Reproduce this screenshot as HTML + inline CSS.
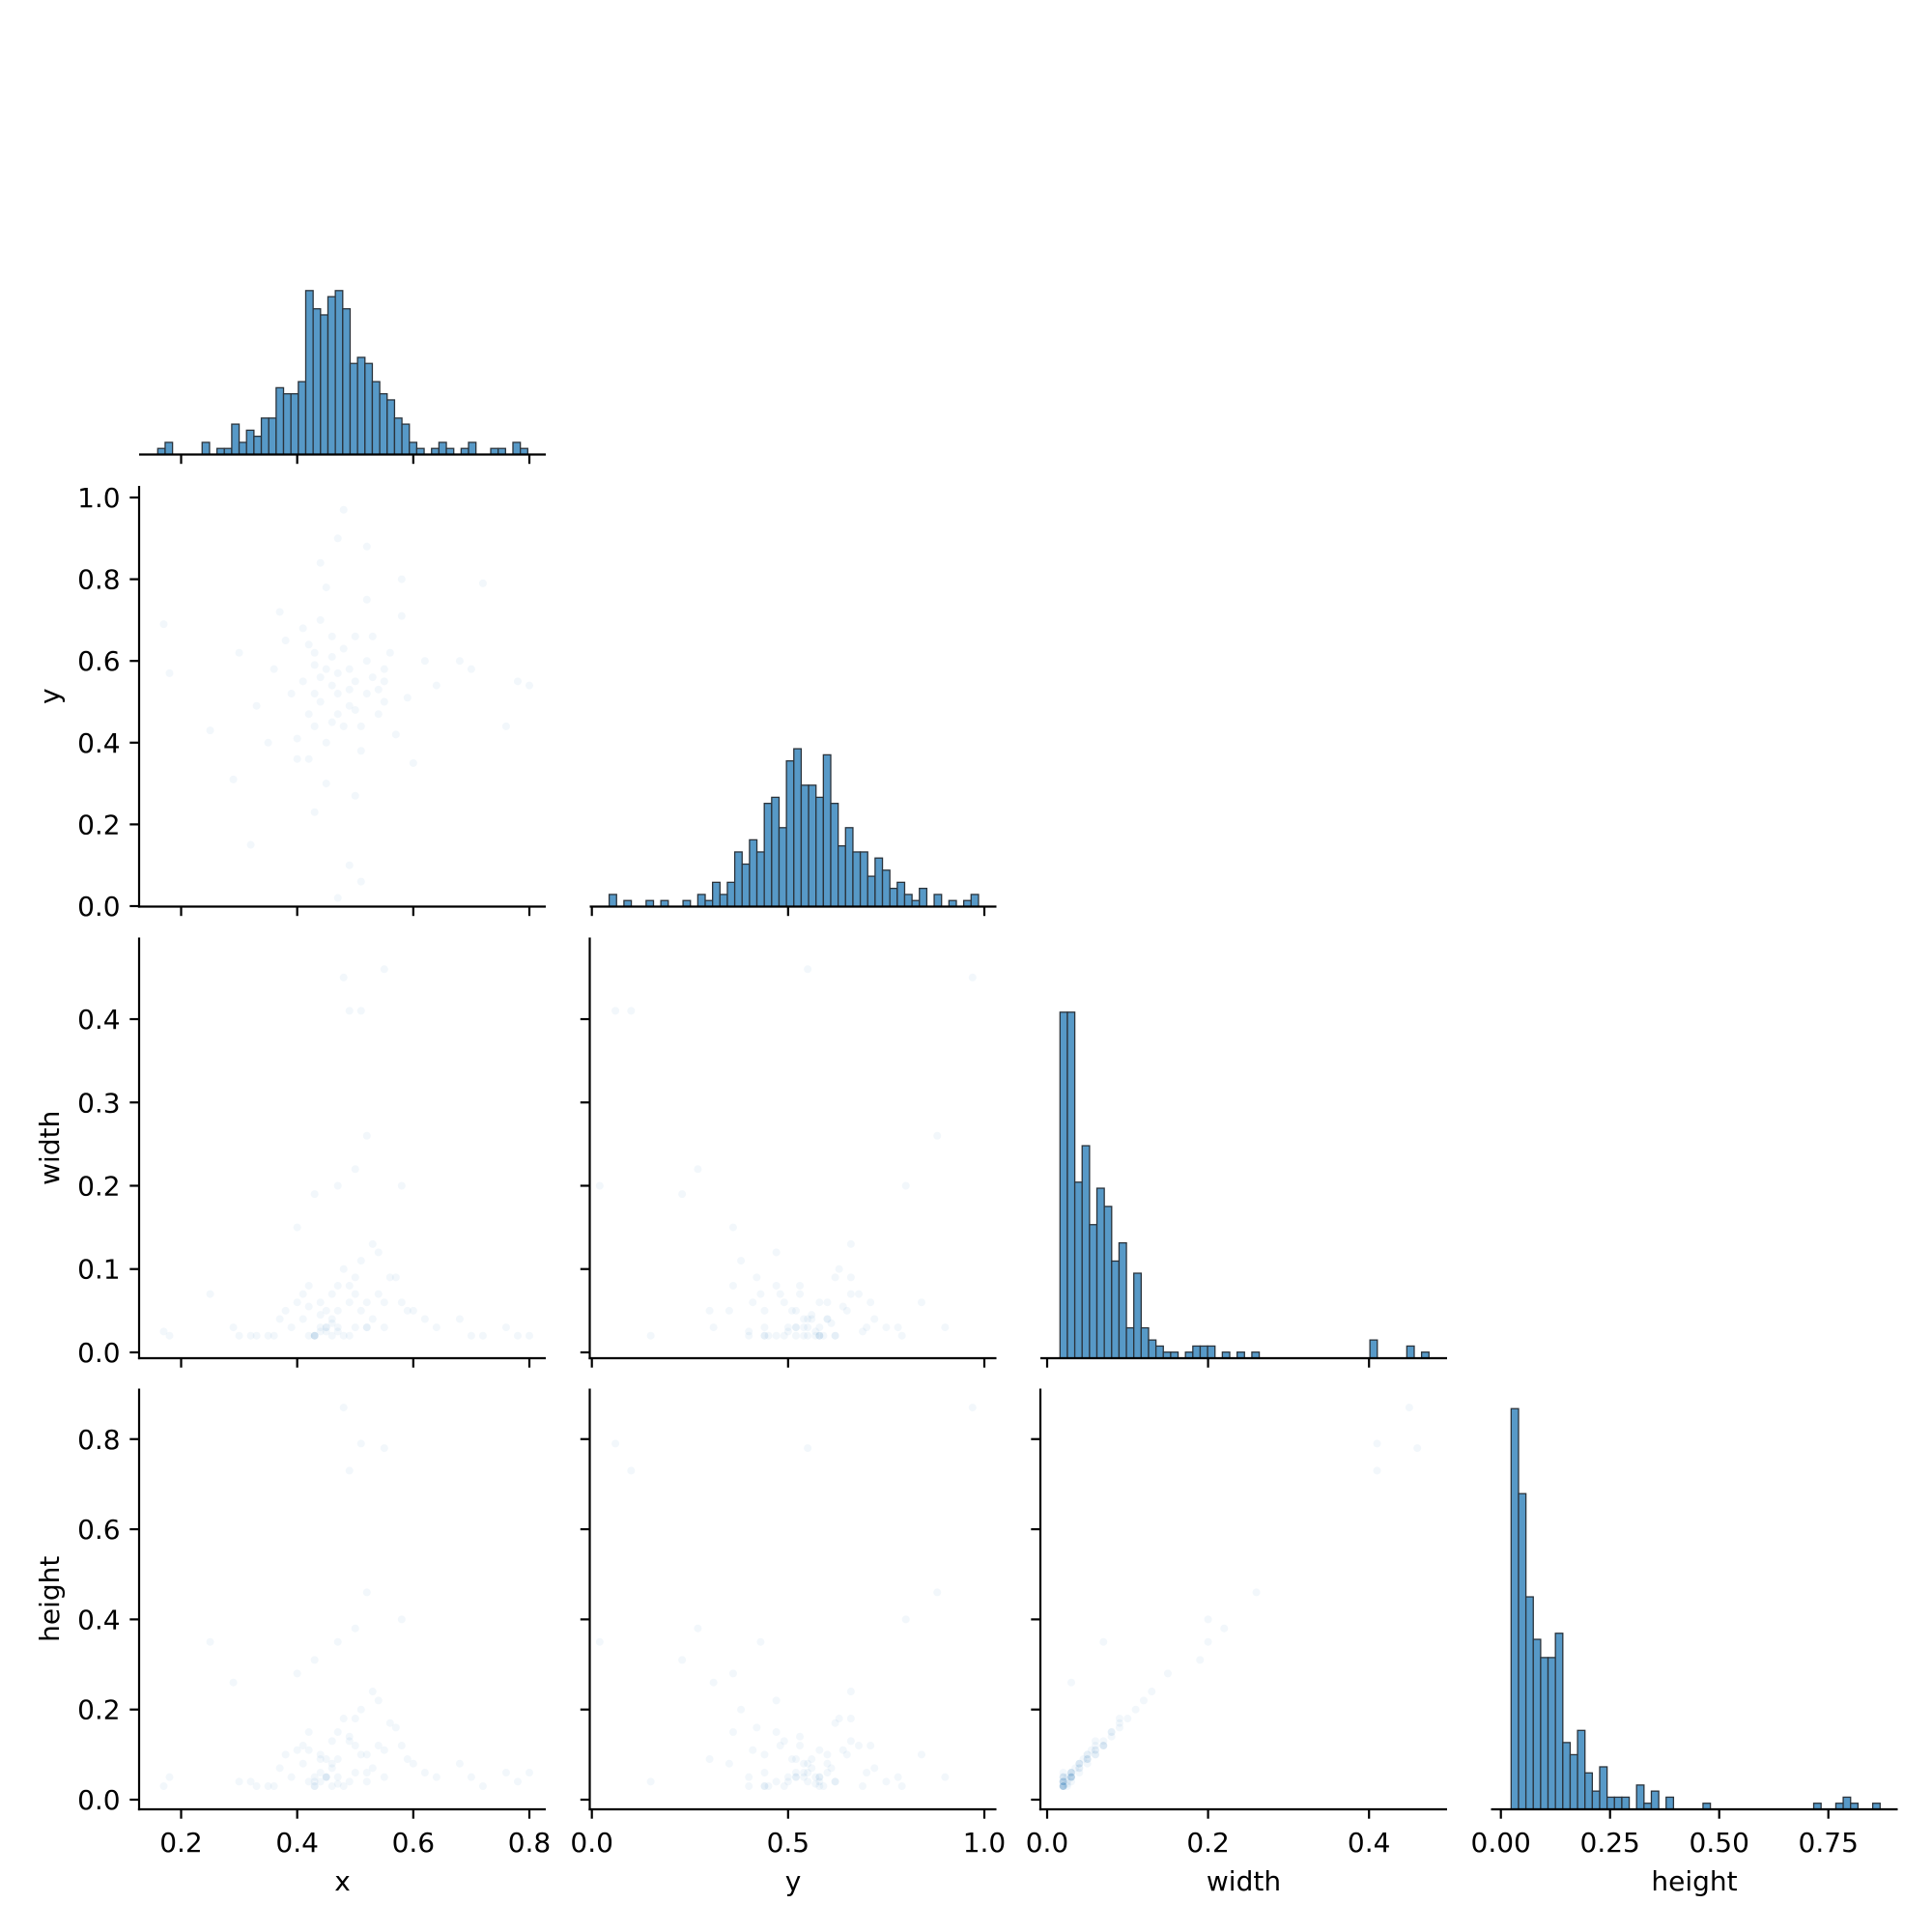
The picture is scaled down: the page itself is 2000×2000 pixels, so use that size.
<!DOCTYPE html>
<html>
<head>
<meta charset="utf-8">
<style>
  html, body { margin: 0; padding: 0; background: #fff; }
  svg { display: block; }
  text { font-family: "DejaVu Sans", "Liberation Sans", sans-serif; fill: #000; }
</style>
</head>
<body>
<svg id="chart" width="2000" height="2000" viewBox="0 0 2000 2000" xmlns="http://www.w3.org/2000/svg">
  <rect x="0" y="0" width="2000" height="2000" fill="#ffffff"></rect>
</svg>
<script>
// ---- data ----
const varNames = ["x", "y", "width", "height"];
const xCounts = [1,2,0,0,0,0,2,0,1,1,5,2,4,3,6,6,11,10,10,12,27,24,23,26,27,24,15,16,15,12,10,9,6,5,2,1,0,1,2,1,0,1,2,0,0,1,1,0,2,1];
const yCounts = [2,0,1,0,0,1,0,1,0,0,1,0,2,1,4,2,4,9,7,11,9,17,18,13,24,26,20,20,18,25,17,10,13,9,9,5,8,6,3,4,2,1,3,0,2,0,1,0,1,2];
const wCounts = [57,57,29,35,22,28,25,16,19,5,14,5,3,2,1,1,0,1,2,2,2,0,1,0,1,0,1,0,0,0,0,0,0,0,0,0,0,0,0,0,0,0,3,0,0,0,0,2,0,1];
const hCounts = [66,52,35,28,25,25,29,11,9,13,6,3,7,2,2,2,0,4,1,3,0,2,0,0,0,0,1,0,0,0,0,0,0,0,0,0,0,0,0,0,0,1,0,0,1,2,1,0,0,1];
const histStart = [0.1597, 0.0441, 0.0160, 0.0235];
const histBinWidth = [0.01275, 0.01882, 0.00917, 0.01690];
const xTicks = [[0.2,0.4,0.6,0.8],[0.0,0.5,1.0],[0.0,0.2,0.4],[0.0,0.25,0.5,0.75]];
const xTickLabels = [["0.2","0.4","0.6","0.8"],["0.0","0.5","1.0"],["0.0","0.2","0.4"],["0.00","0.25","0.50","0.75"]];
const yTicks = [[],[0,0.2,0.4,0.6,0.8,1.0],[0,0.1,0.2,0.3,0.4],[0,0.2,0.4,0.6,0.8]];
const yTickLabels = [[],["0.0","0.2","0.4","0.6","0.8","1.0"],["0.0","0.1","0.2","0.3","0.4"],["0.0","0.2","0.4","0.6","0.8"]];
const xLimits = [[0.1276,0.8283],[-0.0054,1.0308],[-0.0084,0.4970],[-0.0226,0.9088]];
const yLimits = [[0,1],[-0.0012,1.0284],[-0.007,0.498],[-0.0214,0.912]];
// records: [x, y, width, height]
const records = [
[0.45,0.58,0.03,0.05],[0.47,0.52,0.05,0.09],[0.43,0.62,0.02,0.04],[0.50,0.48,0.07,0.12],[0.41,0.55,0.04,0.08],[0.52,0.60,0.06,0.10],[0.46,0.45,0.02,0.03],[0.44,0.70,0.03,0.06],[0.49,0.53,0.08,0.14],[0.55,0.50,0.03,0.05],
[0.38,0.65,0.05,0.10],[0.57,0.42,0.09,0.16],[0.42,0.47,0.02,0.04],[0.48,0.63,0.10,0.18],[0.53,0.56,0.04,0.07],[0.40,0.41,0.06,0.11],[0.36,0.58,0.02,0.03],[0.59,0.51,0.05,0.09],[0.45,0.78,0.03,0.05],[0.51,0.38,0.11,0.20],
[0.47,0.57,0.025,0.035],[0.44,0.50,0.025,0.04],[0.43,0.59,0.02,0.03],[0.46,0.66,0.07,0.13],[0.50,0.55,0.03,0.06],[0.54,0.47,0.12,0.22],[0.39,0.52,0.03,0.05],[0.62,0.60,0.04,0.06],[0.33,0.49,0.02,0.03],[0.58,0.71,0.06,0.12],
[0.48,0.44,0.02,0.03],[0.42,0.36,0.08,0.15],[0.52,0.75,0.03,0.04],[0.45,0.30,0.05,0.09],[0.37,0.72,0.04,0.07],[0.56,0.62,0.09,0.17],[0.49,0.58,0.02,0.04],[0.64,0.54,0.03,0.05],[0.30,0.62,0.02,0.04],[0.70,0.58,0.02,0.05],
[0.44,0.84,0.06,0.10],[0.47,0.90,0.03,0.05],[0.35,0.40,0.02,0.03],[0.60,0.35,0.05,0.08],[0.53,0.66,0.13,0.24],[0.41,0.68,0.07,0.12],[0.46,0.54,0.04,0.08],[0.51,0.44,0.05,0.10],[0.43,0.52,0.02,0.05],[0.55,0.58,0.06,0.11],
[0.18,0.57,0.02,0.05],[0.17,0.69,0.025,0.03],[0.25,0.43,0.07,0.35],[0.29,0.31,0.03,0.26],[0.32,0.15,0.02,0.04],[0.78,0.55,0.02,0.04],[0.76,0.44,0.03,0.06],[0.72,0.79,0.02,0.03],[0.68,0.60,0.04,0.08],[0.80,0.54,0.02,0.06],
[0.48,0.97,0.45,0.87],[0.51,0.06,0.41,0.79],[0.49,0.10,0.41,0.73],[0.55,0.55,0.46,0.78],[0.47,0.02,0.20,0.35],[0.43,0.23,0.19,0.31],[0.58,0.80,0.20,0.40],[0.52,0.88,0.26,0.46],[0.40,0.36,0.15,0.28],[0.50,0.27,0.22,0.38],
[0.46,0.61,0.035,0.07],[0.44,0.56,0.045,0.09],[0.49,0.49,0.06,0.13],[0.52,0.52,0.03,0.06],[0.47,0.47,0.08,0.15],[0.42,0.64,0.055,0.11],[0.54,0.53,0.07,0.12],[0.45,0.40,0.025,0.05],[0.50,0.66,0.09,0.18],[0.43,0.44,0.02,0.03]
];

// ---- layout ----
const NS = "http://www.w3.org/2000/svg";
const svg = document.getElementById("chart");
const colLeft = [144, 610.5, 1077, 1543.5];
const colW = 421;
const rowTop = [35, 503, 970.5, 1437.5];
const rowH = 435.5;
const TICK = 9.7, PAD = 9.7, FS = 28;
const BAR_FILL = "#5799c7", BAR_EDGE = "#2b333b";

function el(tag, attrs, parent) {
  const e = document.createElementNS(NS, tag);
  for (const k in attrs) e.setAttribute(k, attrs[k]);
  (parent || svg).appendChild(e);
  return e;
}
function sx(c, v) { const d = xLimits[c]; return colLeft[c] + (v - d[0]) / (d[1] - d[0]) * colW; }
function sy(r, v) { const d = yLimits[r]; return rowTop[r] + rowH - (v - d[0]) / (d[1] - d[0]) * rowH; }

const allCounts = [xCounts, yCounts, wCounts, hCounts];
let maxCount = 0;
allCounts.forEach(a => a.forEach(v => { if (v > maxCount) maxCount = v; }));
const countMax = maxCount * 1.05;
function sc(r, n) { return rowTop[r] + rowH - n / countMax * rowH; }

for (let r = 0; r < 4; r++) {
  for (let c = 0; c <= r; c++) {
    const g = el("g", {});
    
    
    const bottom = rowTop[r] + rowH;
    if (r === c) {
      const counts = allCounts[r];
      counts.forEach((n, i) => {
        if (n <= 0) return;
        const x0 = sx(c, histStart[c] + i * histBinWidth[c]);
        const x1 = sx(c, histStart[c] + (i + 1) * histBinWidth[c]);
        const yTop = sc(r, n);
        const b = el("rect", { x: x0, y: yTop, width: x1 - x0, height: bottom - yTop, fill: BAR_FILL, stroke: BAR_EDGE, "stroke-width": 1.3 }, g);
        
        
      });
    } else {
      records.forEach((rec, i) => {
        const p = el("circle", { cx: sx(c, rec[c]), cy: sy(r, rec[r]), r: 4, fill: "rgba(31,119,180,0.06)", stroke: "rgba(255,255,255,0.1)", "stroke-width": 0.6 }, g);
        
        
      });
      const ls = el("line", { x1: colLeft[c], y1: rowTop[r], x2: colLeft[c], y2: bottom + 1.1, stroke: "#000", "stroke-width": 2.2 }, g);
      
      
      yTicks[r].forEach((t, i) => {
        const y = sy(r, t);
        const tk = el("line", { x1: colLeft[c] - TICK, y1: y, x2: colLeft[c], y2: y, stroke: "#000", "stroke-width": 2.2 }, g);
        
        
        if (c === 0) {
          const tl = el("text", { x: colLeft[c] - TICK - PAD, y: y + 10, "font-size": FS, "text-anchor": "end" }, g);
          tl.textContent = yTickLabels[r][i];
          
          
        }
      });
    }
    const bs = el("line", { x1: colLeft[c] - (r === c ? 0 : 1.1), y1: bottom, x2: colLeft[c] + colW, y2: bottom, stroke: "#000", "stroke-width": 2.2 }, g);
    
    
    xTicks[c].forEach((t, i) => {
      const x = sx(c, t);
      const tk = el("line", { x1: x, y1: bottom, x2: x, y2: bottom + TICK, stroke: "#000", "stroke-width": 2.2 }, g);
      
      
      if (r === 3) {
        const tl = el("text", { x: x, y: bottom + 44, "font-size": FS, "text-anchor": "middle" }, g);
        tl.textContent = xTickLabels[c][i];
        
        
      }
    });
  }
}
for (let c = 0; c < 4; c++) {
  const t = el("text", { x: colLeft[c] + colW / 2, y: 1957, "font-size": FS, "text-anchor": "middle" });
  t.textContent = varNames[c];
  
  
}
for (let r = 1; r < 4; r++) {
  const cy = rowTop[r] + rowH / 2;
  const t = el("text", { x: 61, y: cy, "font-size": FS, "text-anchor": "middle", transform: "rotate(-90 61 " + cy + ")" });
  t.textContent = varNames[r];
  
  
}
</script>
</body>
</html>
